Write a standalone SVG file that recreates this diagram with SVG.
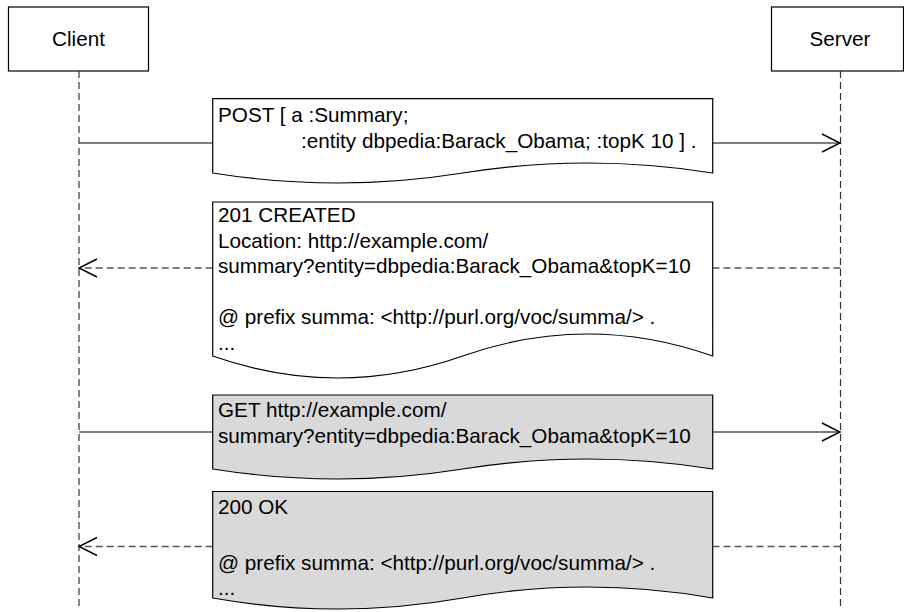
<svg xmlns="http://www.w3.org/2000/svg" width="904" height="612" viewBox="0 0 904 612">
<style>
.box{fill:#fff;stroke:#000;stroke-width:1.2}
.note{stroke:#000;stroke-width:1.2}
.w{fill:#fff}
.g{fill:#d9d9d9}
.life{stroke:#333;stroke-width:1.2;stroke-dasharray:7 4;fill:none}
.solid{stroke:#555;stroke-width:1.6;fill:none}
.dash{stroke:#555;stroke-width:1.6;stroke-dasharray:7 4;fill:none}
.head{stroke:#000;stroke-width:1.4;fill:none}
text{font-family:"Liberation Sans",Arial,sans-serif;font-size:20.7px;fill:#000}
.c{text-anchor:middle}
</style>
<rect width="904" height="612" fill="#fff"/>
<g id="client">
<rect class="box" x="8.5" y="7" width="140" height="64"/>
<text class="c" x="78.5" y="46">Client</text>
</g>
<g id="server">
<rect class="box" x="771.5" y="7" width="132" height="64"/>
<text class="c" x="840" y="46">Server</text>
</g>
<g id="lifelines">
<line class="life" x1="79" y1="71" x2="79" y2="606"/>
<line class="life" x1="840.5" y1="71" x2="840.5" y2="606"/>
</g>
<g id="connectors">
<line class="solid" x1="79" y1="143" x2="212.7" y2="143"/>
<line class="solid" x1="712.7" y1="143" x2="840" y2="143"/>
<polyline class="head" points="822,134 840,143 822,152"/>
<line class="dash" x1="840.5" y1="268" x2="712.7" y2="268"/>
<line class="dash" x1="212.7" y1="268" x2="80" y2="268"/>
<polyline class="head" points="97,259 79,268 97,277"/>
<line class="solid" x1="79" y1="432" x2="212.7" y2="432"/>
<line class="solid" x1="712.7" y1="432" x2="840" y2="432"/>
<polyline class="head" points="822,423 840,432 822,441"/>
<line class="dash" x1="840.5" y1="546.5" x2="712.7" y2="546.5"/>
<line class="dash" x1="212.7" y1="546.5" x2="80" y2="546.5"/>
<polyline class="head" points="97,537.5 79,546.5 97,555.5"/>
</g>
<g id="post">
<path class="note w" d="M212.7,98.7 H712.7 V173 Q587.7,153 462.7,173 Q337.7,193 212.7,173 Z"/>
<text x="218" y="122">POST [ a :Summary;</text>
<text x="301" y="147.5">:entity dbpedia:Barack_Obama; :topK 10 ] .</text>
</g>
<g id="created">
<path class="note w" d="M212.7,202 H712.7 V356 Q587.7,312 462.7,356 Q337.7,400 212.7,356 Z"/>
<text x="218" y="222">201 CREATED</text>
<text x="218" y="247.5">Location: http://example.com/</text>
<text x="218" y="273">summary?entity=dbpedia:Barack_Obama&amp;topK=10</text>
<text x="218" y="324">@ prefix summa: &lt;http://purl.org/voc/summa/&gt; .</text>
<text x="218" y="349.5">...</text>
</g>
<g id="get">
<path class="note g" d="M212.7,395 H712.7 V469 Q587.7,449 462.7,469 Q337.7,489 212.7,469 Z"/>
<text x="218" y="417">GET http://example.com/</text>
<text x="218" y="442.5">summary?entity=dbpedia:Barack_Obama&amp;topK=10</text>
</g>
<g id="ok">
<path class="note g" d="M212.7,491.5 H712.7 V598 Q587.7,576 462.7,598 Q337.7,620 212.7,598 Z"/>
<text x="218" y="513.5">200 OK</text>
<text x="218" y="570">@ prefix summa: &lt;http://purl.org/voc/summa/&gt; .</text>
<text x="218" y="595">...</text>
</g>
</svg>
